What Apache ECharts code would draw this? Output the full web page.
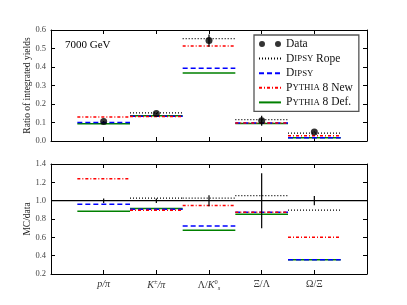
<!DOCTYPE html>
<html><head><meta charset="utf-8">
<script src="https://cdn.jsdelivr.net/npm/echarts@6/dist/echarts.min.js"></script>
<style>html,body{margin:0;padding:0;background:#fff}#c{width:407px;height:305px}</style>
</head><body><div id="c"></div>
<script>
// ---- data ----
const categories = ['p/π', 'K±/π', 'Λ/K0s', 'Ξ/Λ', 'Ω/Ξ'];
const topTicks = [0.0, 0.1, 0.2, 0.3, 0.4, 0.5, 0.6];
const bottomTicks = [0.2, 0.4, 0.6, 0.8, 1.0, 1.2, 1.4];
// upper panel: ratio of integrated yields
const dataVals   = [0.105, 0.148, 0.543, 0.110, 0.049];
const dataErr    = [0.003, 0.004, 0.033, 0.027, 0.003];
const ropeVals   = [null, 0.152, 0.553, 0.116, 0.043];
const dipsyVals  = [0.100, 0.134, 0.393, 0.097, 0.018];
const pyNewVals  = [0.130, 0.133, 0.513, 0.097, 0.029];
const pyDefVals  = [0.093, 0.136, 0.367, 0.094, 0.017];
// lower panel: MC / data
const ratioErr   = [0.025, 0.025, 0.06, 0.30, 0.05];
const ropeRatio  = [null, 1.027, 1.027, 1.055, 0.896];
const dipsyRatio = [0.961, 0.907, 0.725, 0.874, 0.355];
const pyNewRatio = [1.240, 0.896, 0.946, 0.874, 0.602];
const pyDefRatio = [0.885, 0.914, 0.678, 0.853, 0.355];

// ---- helpers ----
function segs(vals){ const out=[]; vals.forEach((v,i)=>{ if(v==null) return; out.push([i-0.5,v],[i+0.5,v],[i,'-']); }); return out; }
function errs(c, e){ const out=[]; c.forEach((v,i)=>{ out.push([i,v-e[i]],[i,v+e[i]],[i,'-']); }); return out; }

const FONT = 'Liberation Serif';
const catLabel = {
  0: '{i|p/π}', 1: '{i|K}{sup|±}{i|/π}', 2: '{n|Λ/}{i|K}{sup|0}{sub|s}', 3: '{n|Ξ/Λ}', 4: '{n|Ω/Ξ}'
};
const S = {
  rope:  {name:'DipsyRope', color:'#000000', type:[1,2], width:1.2},
  dipsy: {name:'Dipsy', color:'#0000ff', type:[5,3], width:1.5},
  pynew: {name:'PythiaNew', color:'#ff0000', type:[3,2,1,2], width:1.5},
  pydef: {name:'PythiaDef', color:'#008000', type:'solid', width:1.5}
};
function lineSeries(st, vals, gi){
  return {type:'line', name:st.name, xAxisIndex:gi*2, yAxisIndex:gi*2, data:segs(vals),
    symbol:'circle', showSymbol:false, connectNulls:false, animation:false,
    lineStyle:{color:st.color, type:st.type, width:st.width}, itemStyle:{color:st.color}};
}
const grids = [
  {left:51, right:40, top:30, height:111},
  {left:51, right:40, top:164, height:110}
];
const xAxes = [], yAxes = [];
[0,1].forEach(gi=>{
  const base = {type:'value', gridIndex:gi, min:-1, max:5, interval:1,
    axisLine:{show:true, onZero:false, lineStyle:{color:'#000', width:1}},
    axisTick:{show:true, inside:true, length:4, lineStyle:{color:'#000'}},
    splitLine:{show:false}};
  xAxes.push(Object.assign({}, base, {position:'bottom',
    axisLabel:{show:gi===1, margin:5, fontFamily:FONT, color:'#333',
      formatter:v=>catLabel[v]||'',
      rich:{i:{fontStyle:'italic', fontSize:10, fontFamily:FONT, color:'#333'},
            n:{fontSize:10, fontFamily:FONT, color:'#333'},
            sup:{fontSize:6.5, fontFamily:FONT, color:'#333', verticalAlign:'top', padding:[0,0,6,0]},
            sub:{fontSize:6.5, fontStyle:'italic', fontFamily:FONT, color:'#333', padding:[5,0,0,0]}}}}));
  xAxes.push(Object.assign({}, base, {position:'top', axisLabel:{show:false}}));
  const ticks = gi===0 ? topTicks : bottomTicks;
  const ybase = {type:'value', gridIndex:gi, min:ticks[0], max:ticks[ticks.length-1], interval:ticks[1]-ticks[0],
    axisLine:{show:true, onZero:false, lineStyle:{color:'#000', width:1}},
    axisTick:{show:true, inside:true, length:4, lineStyle:{color:'#000'}},
    splitLine:{show:false}};
  yAxes.push(Object.assign({}, ybase, {position:'left',
    name: gi===0 ? 'Ratio of integrated yields' : 'MC/data', nameLocation:'middle', nameGap:19,
    nameMoveOverlap:false,
    nameTextStyle:{fontFamily:FONT, fontSize:9.5, color:'#222'},
    axisLabel:{margin:5, fontFamily:FONT, fontSize:8.5, color:'#444', formatter:v=>v.toFixed(1)}}));
  yAxes.push(Object.assign({}, ybase, {position:'right', axisLabel:{show:false}}));
});

const series = [];
// upper panel
series.push(lineSeries(S.pydef, pyDefVals, 0));
series.push(lineSeries(S.dipsy, dipsyVals, 0));
series.push(lineSeries(S.pynew, pyNewVals, 0));
series.push(lineSeries(S.rope, ropeVals, 0));
series.push({type:'line', name:'errTop', xAxisIndex:0, yAxisIndex:0, data:errs(dataVals, dataErr),
  symbol:'none', connectNulls:false, animation:false, z:5, lineStyle:{color:'#000', width:1.2}});
series.push({type:'scatter', name:'Data', xAxisIndex:0, yAxisIndex:0,
  data:dataVals.map((v,i)=>[i,v]), symbol:'circle', symbolSize:7, z:6, animation:false,
  itemStyle:{color:'#000'}});
// lower panel
series.push(lineSeries(S.pydef, pyDefRatio, 1));
series.push(lineSeries(S.dipsy, dipsyRatio, 1));
series.push(lineSeries(S.pynew, pyNewRatio, 1));
series.push(lineSeries(S.rope, ropeRatio, 1));
series.push({type:'line', name:'unity', xAxisIndex:2, yAxisIndex:2, data:[[-1,1],[5,1]],
  symbol:'none', animation:false, z:4, lineStyle:{color:'#000', width:1.2}});
series.push({type:'line', name:'errBot', xAxisIndex:2, yAxisIndex:2, data:errs([1,1,1,1,1], ratioErr),
  symbol:'none', connectNulls:false, animation:false, z:5, lineStyle:{color:'#000', width:1.2}});

const legendNames = {
  Data: '{n|Data}',
  DipsyRope: '{n|D}{s|IPSY} {n|Rope}',
  Dipsy: '{n|D}{s|IPSY}',
  PythiaNew: '{n|P}{s|YTHIA} {n|8 New}',
  PythiaDef: '{n|P}{s|YTHIA} {n|8 Def.}'
};
const hideSym = {opacity:0};
const chart = echarts.init(document.getElementById('c'), null, {renderer:'canvas'});
chart.setOption({
  animation:false,
  backgroundColor:'#fff',
  title:{text:'7000 GeV', left:60, top:35, textStyle:{fontFamily:FONT, fontSize:11, fontWeight:'normal', color:'#000'}},
  grid:grids,
  xAxis:xAxes,
  yAxis:yAxes,
  legend:{
    orient:'vertical', left:254, top:35,
    padding:[3,6,3,4], itemGap:2.6, itemWidth:22, itemHeight:10,
    backgroundColor:'#fff', borderColor:'#555', borderWidth:1.3, borderRadius:0,
    data:[
      {name:'Data', icon:'path://M0,3a3,3 0 1,0 6,0a3,3 0 1,0 -6,0M16,3a3,3 0 1,0 6,0a3,3 0 1,0 -6,0'},
      {name:'DipsyRope', itemStyle:hideSym},
      {name:'Dipsy', itemStyle:hideSym},
      {name:'PythiaNew', itemStyle:hideSym},
      {name:'PythiaDef', itemStyle:hideSym}],
    formatter:n=>legendNames[n],
    textStyle:{fontFamily:FONT, fontSize:11, color:'#000',
      rich:{n:{fontFamily:FONT, fontSize:11.5, color:'#111'}, s:{fontFamily:FONT, fontSize:8.8, color:'#111'}}}
  },
  series:series
});
</script></body></html>
